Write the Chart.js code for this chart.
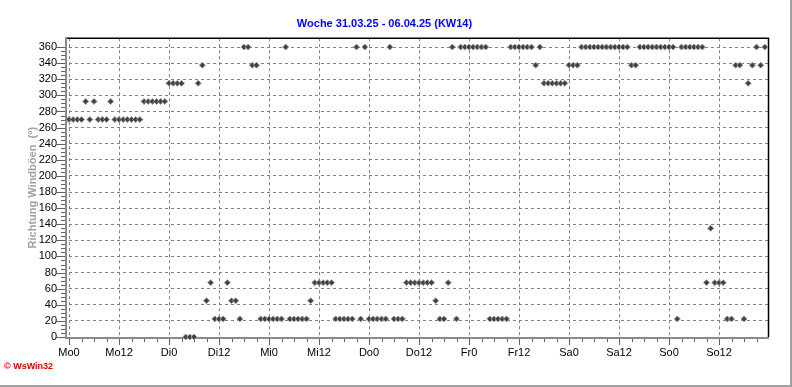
<!DOCTYPE html>
<html>
<head>
<meta charset="utf-8">
<script src="https://cdn.jsdelivr.net/npm/chart.js@4"></script>
<style>
  body { margin: 0; background: #fff; }
  canvas { display: block; }
</style>
</head>
<body>
<canvas id="windChart" width="792" height="387"></canvas>
<script>
// Hourly gust direction (deg), one array per day, hour 0..23
const mo = [270, 270, 270, 270, 292.5, 270, 292.5, 270, 270, 270, 292.5, 270,
            270, 270, 270, 270, 270, 270, 292.5, 292.5, 292.5, 292.5, 292.5, 292.5];
const di = [315, 315, 315, 315, 0, 0, 0, 315, 337.5, 45, 67.5, 22.5,
            22.5, 22.5, 67.5, 45, 45, 22.5, 360, 360, 337.5, 337.5, 22.5, 22.5];
const mi = [22.5, 22.5, 22.5, 22.5, 360, 22.5, 22.5, 22.5, 22.5, 22.5, 45, 67.5,
            67.5, 67.5, 67.5, 67.5, 22.5, 22.5, 22.5, 22.5, 22.5, 360, 22.5, 360];
const dn = [22.5, 22.5, 22.5, 22.5, 22.5, 360, 22.5, 22.5, 22.5, 67.5, 67.5, 67.5,
            67.5, 67.5, 67.5, 67.5, 45, 22.5, 22.5, 67.5, 360, 22.5, 360, 360];
const fr = [360, 360, 360, 360, 360, 22.5, 22.5, 22.5, 22.5, 22.5, 360, 360,
            360, 360, 360, 360, 337.5, 360, 315, 315, 315, 315, 315, 315];
const sa = [337.5, 337.5, 337.5, 360, 360, 360, 360, 360, 360, 360, 360, 360,
            360, 360, 360, 337.5, 337.5, 360, 360, 360, 360, 360, 360, 360];
const so = [360, 360, 22.5, 360, 360, 360, 360, 360, 360, 67.5, 135, 67.5,
            67.5, 67.5, 22.5, 22.5, 337.5, 337.5, 22.5, 315, 337.5, 360, 337.5, 360];

const dayNames = ['Mo', 'Di', 'Mi', 'Do', 'Fr', 'Sa', 'So'];
const yTicks = [0, 20, 40, 60, 80, 100, 120, 140, 160, 180, 200, 220, 240, 260, 280, 300, 320, 340, 360];
const weekTitle = 'Woche 31.03.25 - 06.04.25 (KW14)';
const yAxisTitle = 'Richtung Windböen  (°)';

const directions = [...mo, ...di, ...mi, ...dn, ...fr, ...sa, ...so];
const points = directions.map((v, h) => ({ x: h, y: v }));

const fontFamily = "'Liberation Sans', Arial, sans-serif";

// Axis lines, border and small tick marks like the WsWin plot
const axisFrame = {
  id: 'axisFrame',
  beforeDatasetsDraw(chart) {
    const { ctx, chartArea: a, scales: { x, y } } = chart;
    ctx.save();
    ctx.lineCap = 'butt';

    // tick marks
    ctx.strokeStyle = '#606060';
    ctx.lineWidth = 1;
    ctx.beginPath();
    for (let v = 0; v <= 360; v += 5) {
      const py = Math.round(y.getPixelForValue(v)) + 0.5;
      const len = v % 20 === 0 ? 10 : 5;
      ctx.moveTo(a.left - 3 - len, py);
      ctx.lineTo(a.left - 3, py);
    }
    for (let h = 0; h < 168; h += 3) {
      const px = Math.round(x.getPixelForValue(h)) + 0.5;
      const len = h % 12 === 0 ? 6 : 3;
      ctx.moveTo(px, a.bottom + 1);
      ctx.lineTo(px, a.bottom + 2 + len);
    }
    ctx.stroke();

    // top and right border
    ctx.strokeStyle = '#000';
    ctx.lineWidth = 1.5;
    ctx.beginPath();
    ctx.moveTo(a.left - 3, a.top);
    ctx.lineTo(a.right - 0.5, a.top);
    ctx.lineTo(a.right - 0.5, a.bottom);
    ctx.stroke();

    // grey axes
    ctx.strokeStyle = '#8a8a8a';
    ctx.lineWidth = 2;
    ctx.beginPath();
    ctx.moveTo(a.left - 3, a.top - 1);
    ctx.lineTo(a.left - 3, a.bottom + 1);
    ctx.lineTo(a.right, a.bottom + 1);
    ctx.stroke();
    ctx.restore();
  },
  afterDraw(chart) {
    const { ctx, width, height } = chart;
    ctx.save();
    ctx.fillStyle = '#e00000';
    ctx.font = 'bold 9px ' + fontFamily;
    ctx.textBaseline = 'middle';
    ctx.fillText('© WsWin32', 4, 367);
    ctx.fillStyle = '#a0a0a0';
    ctx.fillRect(width - 2, 0, 2, height);
    ctx.fillRect(0, height - 2, width, 2);
    ctx.restore();
  }
};

new Chart(document.getElementById('windChart'), {
  type: 'scatter',
  data: {
    datasets: [{
      label: 'Richtung Windböen',
      data: points,
      pointStyle: 'rectRot',
      radius: 3,
      hoverRadius: 3,
      backgroundColor: '#404040',
      borderColor: '#9a9a9a',
      borderWidth: 1,
      clip: false
    }]
  },
  options: {
    responsive: false,
    animation: false,
    devicePixelRatio: 1,
    layout: { padding: { left: 0, right: 23, top: 0, bottom: 0 } },
    plugins: {
      legend: { display: false },
      tooltip: { enabled: false },
      title: {
        display: true,
        text: weekTitle,
        color: '#0000ff',
        font: { family: fontFamily, size: 11, weight: 'bold' },
        padding: { top: 17, bottom: 8 }
      }
    },
    scales: {
      x: {
        type: 'linear',
        min: 0,
        max: 168,
        afterBuildTicks: axis => { axis.ticks = axis.ticks.filter(t => t.value % 12 === 0 && t.value < 168); },
        afterFit: scale => { scale.height = 50; },
        ticks: {
          stepSize: 12,
          autoSkip: false,
          maxRotation: 0,
          padding: 9,
          color: '#000',
          font: { family: fontFamily, size: 11 },
          callback: v => dayNames[Math.floor(v / 24)] + (v % 24)
        },
        grid: { color: '#808080', lineWidth: 1, drawTicks: false },
        border: { display: false, dash: [3, 3] }
      },
      y: {
        min: 0,
        max: 371,
        afterBuildTicks: axis => { axis.ticks = yTicks.map(v => ({ value: v })); },
        afterFit: scale => { scale.width = 69; },
        ticks: {
          autoSkip: false,
          padding: 12,
          color: '#000',
          font: { family: fontFamily, size: 11 }
        },
        grid: { color: '#808080', lineWidth: 1, drawTicks: false },
        border: { display: false, dash: [3, 3] },
        title: {
          display: true,
          text: yAxisTitle,
          color: '#a0a0a0',
          font: { family: fontFamily, size: 11, weight: 'bold' },
          padding: { top: 26, bottom: 0 }
        }
      }
    }
  },
  plugins: [axisFrame]
});
</script>
</body>
</html>
